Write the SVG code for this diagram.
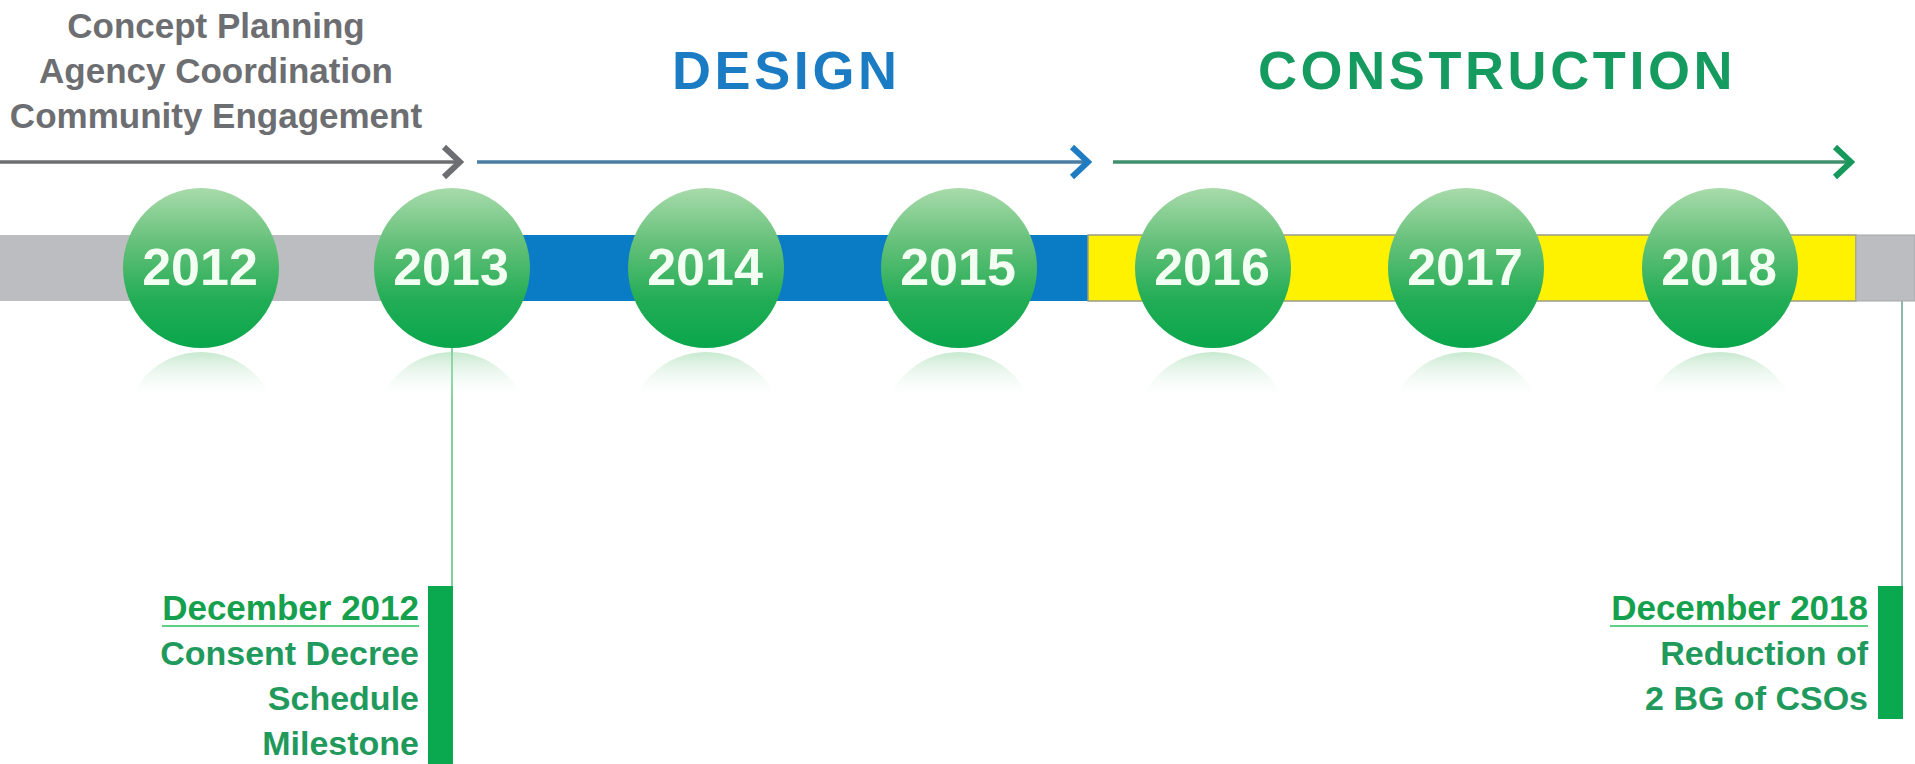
<svg xmlns="http://www.w3.org/2000/svg" width="1915" height="764" viewBox="0 0 1915 764">
<style>
.hd{font-family:"Liberation Sans",Arial,sans-serif;font-weight:bold;}
.top{fill:#6d6e71;font-size:35px;text-anchor:middle;}
.yr{fill:#f4fff4;font-size:52px;text-anchor:middle;}
.ph{font-size:54px;letter-spacing:3.6px;}
.ms{font-size:34px;text-anchor:end;fill:#1f9a5c;}
.msh{font-size:35px;text-anchor:end;fill:#14a04d;}
.ball{fill:url(#ballG);}
.refl{fill:url(#reflG);}
</style>
<defs>
<linearGradient id="ballG" x1="0" y1="0" x2="0" y2="1">
<stop offset="0" stop-color="#a8dbab"/>
<stop offset="0.35" stop-color="#63c078"/>
<stop offset="0.7" stop-color="#22ad55"/>
<stop offset="1" stop-color="#0aa64c"/>
</linearGradient>
<linearGradient id="reflG" gradientUnits="userSpaceOnUse" x1="0" y1="352" x2="0" y2="400">
<stop offset="0" stop-color="#8fd3a0" stop-opacity="0.5"/>
<stop offset="1" stop-color="#ffffff" stop-opacity="0"/>
</linearGradient>
<clipPath id="reflClip"><rect x="0" y="352" width="1915" height="50"/></clipPath>
<marker id="chGray" viewBox="0 0 24 36" markerWidth="24" markerHeight="36" markerUnits="userSpaceOnUse" refX="21" refY="18" orient="auto">
<path d="M4,3 L20,18 L4,33" fill="none" stroke="#6d6e71" stroke-width="6"/>
</marker>
<marker id="chBlue" viewBox="0 0 24 36" markerWidth="24" markerHeight="36" markerUnits="userSpaceOnUse" refX="21" refY="18" orient="auto">
<path d="M4,3 L20,18 L4,33" fill="none" stroke="#1f7cc2" stroke-width="6"/>
</marker>
<marker id="chGreen" viewBox="0 0 24 36" markerWidth="24" markerHeight="36" markerUnits="userSpaceOnUse" refX="21" refY="18" orient="auto">
<path d="M4,3 L20,18 L4,33" fill="none" stroke="#17995c" stroke-width="6"/>
</marker>
</defs>
<rect width="1915" height="764" fill="#ffffff"/>

<!-- phase labels -->
<g id="label-planning" class="hd top">
<text x="216" y="38">Concept Planning</text>
<text x="216" y="83">Agency Coordination</text>
<text x="216" y="128">Community Engagement</text>
</g>
<text id="label-design" class="hd ph" x="672" y="89" fill="#1b7cc4">DESIGN</text>
<text id="label-construction" class="hd ph" x="1258" y="89" fill="#159b5f">CONSTRUCTION</text>

<!-- timeline bar -->
<g id="bar">
<rect x="0" y="235" width="520" height="66" fill="#bcbdc0"/>
<rect x="515" y="235" width="573" height="66" fill="#0a7cc6"/>
<rect x="1088" y="235" width="768" height="66" fill="#fff200" stroke="#9a9a8a" stroke-width="1.5"/>
<rect x="1856" y="235" width="59" height="66" fill="#bcbdc0" stroke="#a6a7aa" stroke-width="1"/>
</g>

<!-- connectors -->
<g id="connectors" fill="none">
<path d="M0,162 L461,162" stroke="#6d6e71" stroke-width="3.5" marker-end="url(#chGray)"/>
<path d="M477,162 L1089,162" stroke="#4a7da3" stroke-width="3.5" marker-end="url(#chBlue)"/>
<path d="M1113,162 L1852,162" stroke="#3f8f6c" stroke-width="3.5" marker-end="url(#chGreen)"/>
<path d="M452,347 L452,586" stroke="#7ed29c" stroke-width="2"/>
<path d="M1902,301 L1902,586" stroke="#8db7a7" stroke-width="2"/>
</g>

<!-- year nodes -->
<g id="y2012"><g clip-path="url(#reflClip)"><ellipse class="refl" cx="201" cy="432" rx="78" ry="80"/></g><ellipse class="ball" cx="201" cy="268" rx="78" ry="80"/><text class="hd yr" x="200" y="285">2012</text></g>
<g id="y2013"><g clip-path="url(#reflClip)"><ellipse class="refl" cx="452" cy="432" rx="78" ry="80"/></g><ellipse class="ball" cx="452" cy="268" rx="78" ry="80"/><text class="hd yr" x="451" y="285">2013</text></g>
<g id="y2014"><g clip-path="url(#reflClip)"><ellipse class="refl" cx="706" cy="432" rx="78" ry="80"/></g><ellipse class="ball" cx="706" cy="268" rx="78" ry="80"/><text class="hd yr" x="705" y="285">2014</text></g>
<g id="y2015"><g clip-path="url(#reflClip)"><ellipse class="refl" cx="959" cy="432" rx="78" ry="80"/></g><ellipse class="ball" cx="959" cy="268" rx="78" ry="80"/><text class="hd yr" x="958" y="285">2015</text></g>
<g id="y2016"><g clip-path="url(#reflClip)"><ellipse class="refl" cx="1213" cy="432" rx="78" ry="80"/></g><ellipse class="ball" cx="1213" cy="268" rx="78" ry="80"/><text class="hd yr" x="1212" y="285">2016</text></g>
<g id="y2017"><g clip-path="url(#reflClip)"><ellipse class="refl" cx="1466" cy="432" rx="78" ry="80"/></g><ellipse class="ball" cx="1466" cy="268" rx="78" ry="80"/><text class="hd yr" x="1465" y="285">2017</text></g>
<g id="y2018"><g clip-path="url(#reflClip)"><ellipse class="refl" cx="1720" cy="432" rx="78" ry="80"/></g><ellipse class="ball" cx="1720" cy="268" rx="78" ry="80"/><text class="hd yr" x="1719" y="285">2018</text></g>

<!-- milestones -->
<g id="milestone-2012">
<rect x="428" y="586" width="25" height="178" fill="#0aa84f"/>
<text class="hd msh" x="419" y="620">December 2012</text>
<line x1="162" y1="626" x2="419" y2="626" stroke="#5fcf85" stroke-width="2"/>
<text class="hd ms" x="419" y="665">Consent Decree</text>
<text class="hd ms" x="419" y="710">Schedule</text>
<text class="hd ms" x="419" y="755">Milestone</text>
</g>
<g id="milestone-2018">
<rect x="1878" y="586" width="25" height="133" fill="#0aa84f"/>
<text class="hd msh" x="1868" y="620">December 2018</text>
<line x1="1610" y1="626" x2="1868" y2="626" stroke="#5fcf85" stroke-width="2"/>
<text class="hd ms" x="1868" y="665">Reduction of</text>
<text class="hd ms" x="1868" y="710">2 BG of CSOs</text>
</g>
</svg>
